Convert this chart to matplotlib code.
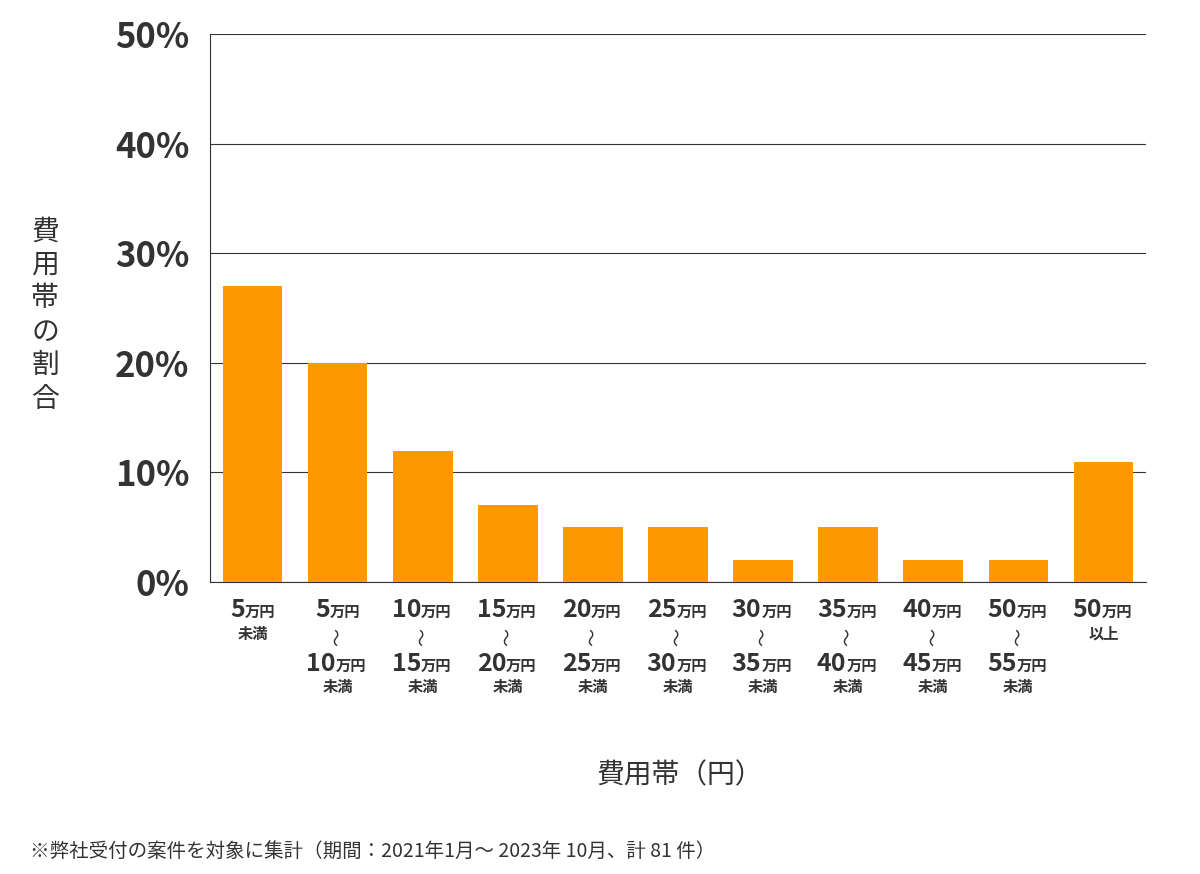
import matplotlib
matplotlib.use("Agg")
import matplotlib.pyplot as plt
from matplotlib.transforms import blended_transform_factory

plt.rcParams['font.family'] = ['Noto Sans CJK JP', 'DejaVu Sans']

top_nums = ["5", "5", "10", "15", "20", "25", "30", "35", "40", "50", "50"]
bottom_nums = [None, "10", "15", "20", "25", "30", "35", "40", "45", "55", None]
under_top = ["未満", None, None, None, None, None, None, None, None, None, "以上"]
values = [27, 20, 12, 7, 5, 5, 2, 5, 2, 2, 11]
yticks = [0, 10, 20, 30, 40, 50]

fig = plt.figure(figsize=(12, 8.74), dpi=100)
ax = fig.add_axes([0.175, 0.334, 0.78, 0.627])
x = list(range(len(values)))
ax.bar(x, values, width=0.7, color="#FF9900", zorder=3)
ax.set_xlim(-0.5, 10.5)
ax.set_ylim(0, 50)
ax.set_yticks(yticks)
ax.set_yticklabels([f"{v}%" for v in yticks], fontsize=25, fontweight='bold', color="#333333")
ax.grid(axis='y', color="#333333", linewidth=0.8, zorder=0)
for s in ['top', 'right']:
    ax.spines[s].set_visible(False)
ax.spines['left'].set_color("#333333")
ax.spines['bottom'].set_color("#333333")
ax.tick_params(axis='y', length=0, pad=15)
ax.tick_params(axis='x', length=0, labelbottom=False)

tr = blended_transform_factory(ax.transData, fig.transFigure)
def fy(py):
    return 1 - py / 874
c = "#333333"
def amount(xi, num, py):
    a = xi - 0.02 if len(num) > 1 else xi - 0.09
    ax.text(a, fy(py), num, transform=tr, ha='right', va='center',
            fontsize=18, fontweight='bold', color=c)
    ax.text(a, fy(py + 2), "万円", transform=tr, ha='left', va='center',
            fontsize=11, fontweight='bold', color=c)
for i in x:
    amount(i, top_nums[i], 610)
    if under_top[i]:
        ax.text(i, fy(634), under_top[i], transform=tr, ha='center', va='center',
                fontsize=11, fontweight='bold', color=c)
    if bottom_nums[i]:
        ax.text(i, fy(637), "〜", transform=tr, ha='center', va='center', rotation=90,
                fontsize=13, color=c)
        amount(i, bottom_nums[i], 664)
        ax.text(i, fy(687), "未満", transform=tr, ha='center', va='center',
                fontsize=11, fontweight='bold', color=c)

fig.text(45 / 1200, fy(315), "\n".join("費用帯の割合"), ha='center', va='center',
         fontsize=20, color=c, linespacing=1.15)
fig.text(680 / 1200, fy(775), "費用帯（円）", ha='center', va='center', fontsize=20, color=c)
fig.text(30 / 1200, fy(851), "※弊社受付の案件を対象に集計（期間：2021年1月～ 2023年 10月、計 81 件）",
         ha='left', va='center', fontsize=14, color=c)
fig.savefig("out.png", dpi=100)
